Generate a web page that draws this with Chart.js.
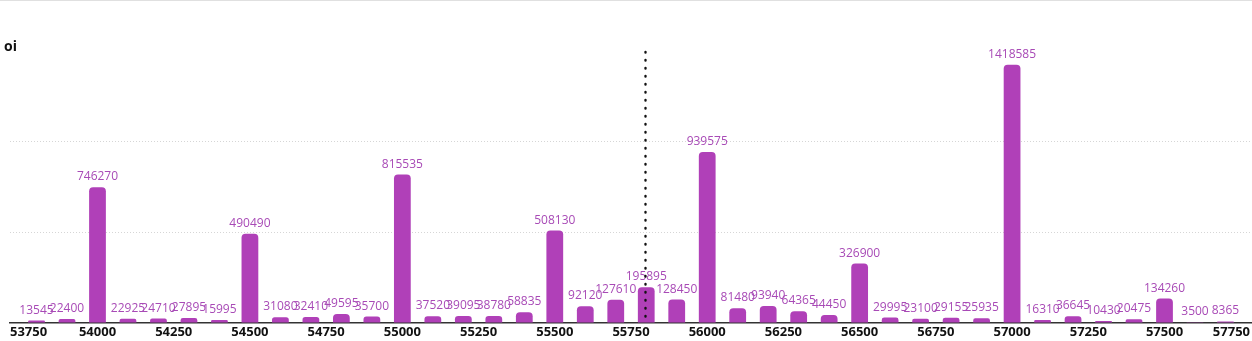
<!DOCTYPE html>
<html>
<head>
<meta charset="utf-8">
<script src="https://cdn.jsdelivr.net/npm/chart.js@4.4.1/dist/chart.umd.min.js"></script>
<style>
    body { margin: 0; background: #fff; }
    .wrap { position: relative; width: 1252px; height: 341px; border-top: 1px solid #e0e0e0; box-sizing: border-box; }
    canvas { position: absolute; left: 0; top: -1px; }
</style>
</head>
<body>
<div class="wrap"><canvas id="oiChart" width="1252" height="341"></canvas></div>
<script>
// strike prices and open interest per strike
const strikes = [53800, 53900, 54000, 54100, 54200, 54300, 54400, 54500, 54600, 54700,
    54800, 54900, 55000, 55100, 55200, 55300, 55400, 55500, 55600, 55700,
    55800, 55900, 56000, 56100, 56200, 56300, 56400, 56500, 56600, 56700,
    56800, 56900, 57000, 57100, 57200, 57300, 57400, 57500, 57600, 57700];
const oiValues = [13545, 22400, 746270, 22925, 24710, 27895, 15995, 490490, 31080, 32410,
    49595, 35700, 815535, 37520, 39095, 38780, 58835, 508130, 92120, 127610,
    195895, 128450, 939575, 81480, 93940, 64365, 44450, 326900, 29995, 23100,
    29155, 25935, 1418585, 16310, 36645, 10430, 20475, 134260, 3500, 8365];
const xTickLabels = [53750, 54000, 54250, 54500, 54750, 55000, 55250, 55500, 55750,
    56000, 56250, 56500, 56750, 57000, 57250, 57500, 57750];
const spotPrice = 55795;

const barColor = '#b040b8';
const valueColor = '#a84ab6';

// value labels above each bar, spot marker and x labels kept inside the plot
const overlayPlugin = {
    id: 'overlay',
    afterDatasetsDraw(chart) {
        const ctx = chart.ctx;
        const area = chart.chartArea;
        const xScale = chart.scales.x;
        const meta = chart.getDatasetMeta(0);

        ctx.save();
        ctx.font = '12px "Open Sans"';
        ctx.fillStyle = valueColor;
        ctx.textAlign = 'center';
        ctx.textBaseline = 'alphabetic';
        meta.data.forEach((bar, i) => {
            ctx.fillText(String(oiValues[i]), bar.x, bar.y - 7);
        });

        // spot line
        const sx = Math.round(xScale.getPixelForValue(spotPrice)) + 0.5;
        ctx.strokeStyle = '#111';
        ctx.lineWidth = 2.4;
        ctx.lineCap = 'round';
        ctx.setLineDash([0.5, 7.5]);
        ctx.beginPath();
        ctx.moveTo(sx, area.top + 2);
        ctx.lineTo(sx, area.bottom);
        ctx.stroke();
        ctx.setLineDash([]);

        // x tick labels
        ctx.font = 'bold 13px "Open Sans"';
        ctx.fillStyle = '#111';
        xTickLabels.forEach(v => {
            const text = String(v);
            const w = ctx.measureText(text).width;
            let x = xScale.getPixelForValue(v);
            x = Math.max(area.left + w / 2, Math.min(area.right - 2 - w / 2, x));
            ctx.fillText(text, x, 336);
        });

        // axis name
        ctx.font = 'bold 14px "Open Sans"';
        ctx.textAlign = 'left';
        ctx.textBaseline = 'middle';
        ctx.fillText('oi', 4, 47);
        ctx.restore();
    }
};

const ctx = document.getElementById('oiChart').getContext('2d');
const oiChart = new Chart(ctx, {
    type: 'bar',
    data: {
        datasets: [{
            label: 'oi',
            data: strikes.map((s, i) => ({ x: s, y: oiValues[i] })),
            backgroundColor: barColor,
            borderRadius: 4,
            categoryPercentage: 1,
            barPercentage: 0.55
        }]
    },
    options: {
        responsive: false,
        animation: false,
        layout: { padding: { left: 10, right: 0, top: 50, bottom: 18 } },
        plugins: {
            legend: { display: false },
            tooltip: { enabled: false }
        },
        scales: {
            x: {
                type: 'linear',
                min: 53713,
                max: 57787,
                offset: false,
                ticks: { display: false },
                grid: { display: false, drawTicks: false },
                border: { display: true, color: '#333', width: 1.5 }
            },
            y: {
                min: 0,
                max: 1500000,
                ticks: { display: false, stepSize: 500000 },
                grid: {
                    drawTicks: false,
                    lineWidth: 1,
                    color: c => (c.tick && c.tick.value > 0 && c.tick.value < 1500000) ? '#d6d6d6' : 'rgba(0,0,0,0)'
                },
                border: { display: false, dash: [1, 2] }
            }
        }
    },
    plugins: [overlayPlugin]
});
</script>
</body>
</html>
